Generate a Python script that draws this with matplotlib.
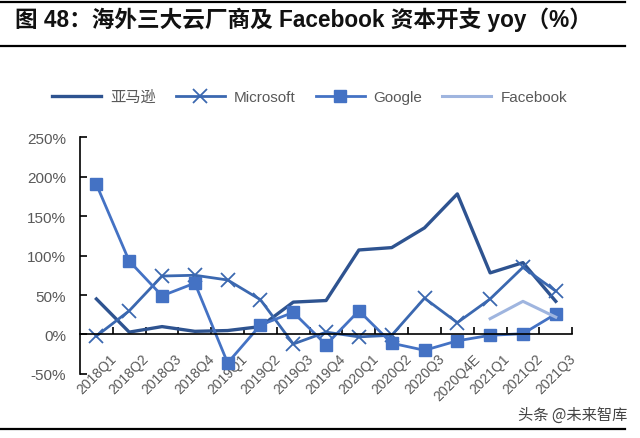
import matplotlib
matplotlib.use('Agg')
import matplotlib.pyplot as plt
from matplotlib.lines import Line2D
import numpy as np

plt.rcParams['font.family'] = ['Liberation Sans', 'Noto Sans CJK SC', 'DejaVu Sans']

# quarters on the x axis
quarters = ['2018Q1', '2018Q2', '2018Q3', '2018Q4', '2019Q1', '2019Q2', '2019Q3',
            '2019Q4', '2020Q1', '2020Q2', '2020Q3', '2020Q4E', '2021Q1', '2021Q2', '2021Q3']

# capex yoy, %
amazon = [45, 3, 10, 4, 5, 10, 41, 43, 107, 110, 135, 178, 78, 91, 42]
microsoft = [-2, 30, 74, 75, 69, 44, -12, 3, -3, -1, 46, 15, 45, 85, 55]
google = [190, 93, 49, 65, -36, 12, 28, -13, 30, -11, -20, -8, -1, 1, 26]
facebook = [None] * 12 + [20, 42, 22]

yticks = [-50, 0, 50, 100, 150, 200, 250]

fig = plt.figure(figsize=(6.4, 4.39), dpi=100)
ax = fig.add_axes([0.125, 0.1458, 0.769, 0.5398])

x = np.arange(len(quarters))
fb = np.array([np.nan if v is None else v for v in facebook], dtype=float)

ax.plot(x, amazon, color='#2E5390', lw=2.4, label='亚马逊')
ax.plot(x, microsoft, color='#3B68B0', lw=2.0, marker='x', ms=10, mew=1.3, label='Microsoft')
ax.plot(x, google, color='#4472C4', lw=2.0, marker='s', ms=9, label='Google')
ax.plot(x, fb, color='#9FB5DF', lw=2.2, label='Facebook')

ax.set_xlim(-0.5, len(quarters) - 0.5)
ax.set_ylim(-50, 250)
ax.set_yticks(yticks)
ax.set_yticklabels([f'{v}%' for v in yticks])

# category ticks sit on the bin edges, labels under the zero line
ax.set_xticks(x + 0.5, minor=True)
ax.set_xticks(x)
ax.set_xticklabels(quarters)
ax.tick_params(axis='x', which='major', length=0, pad=12, labelsize=10,
               labelcolor='#595959', labelrotation=45)
ax.tick_params(axis='x', which='minor', direction='in', length=5, width=1.2, color='black')
ax.tick_params(axis='y', direction='in', length=5, width=1.2, labelsize=11,
               labelcolor='#595959', pad=10)
plt.setp(ax.get_xticklabels(), ha='right', rotation_mode='anchor')

ax.spines['bottom'].set_position(('data', 0))
ax.spines['bottom'].set_linewidth(1.2)
ax.spines['left'].set_linewidth(1.2)
ax.spines['top'].set_visible(False)
ax.spines['right'].set_visible(False)

fig.legend(loc='center', bbox_to_anchor=(0.484, 0.777), ncol=4, frameon=False,
           fontsize=11, handlelength=3.2, columnspacing=1.3, handletextpad=0.6,
           labelcolor='#595959')

fig.text(0.023, 0.955, '图 48：海外三大云厂商及 Facebook 资本开支 yoy（%）',
         fontsize=16.3, fontweight='bold', va='center', ha='left', color='#111111')
for yy in (0.993, 0.893, 0.0205):
    fig.add_artist(Line2D([0, 0.977], [yy, yy], transform=fig.transFigure,
                          color='black', lw=1.6))

fig.text(0.98, 0.055, '头条 @未来智库', fontsize=11, color='#444444',
         ha='right', va='center', family=['Noto Sans CJK SC', 'DejaVu Sans'])

fig.savefig('out.png', dpi=100, facecolor='white')
